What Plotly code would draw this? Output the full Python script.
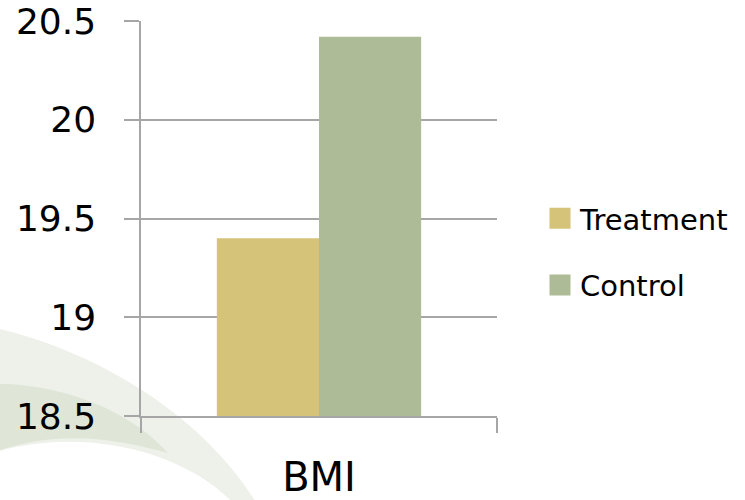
import plotly.graph_objects as go

categories = ["BMI"]
series_names = ["Treatment", "Control"]
treatment = [19.4]
control = [20.42]
colors = ["#D6C37A", "#ADBB97"]
y_ticks = [18.5, 19, 19.5, 20, 20.5]
y_tick_labels = ["18.5", "19", "19.5", "20", "20.5"]

W, H = 745, 500
ML, MR, MT, MB = 141, 247, 21, 84
PW, PH = W - ML - MR, H - MT - MB
FONT = "DejaVu Sans"


def px(x, y):
    return (x - ML) / PW, (H - MB - y) / PH


def path(cmds):
    out = []
    for c in cmds:
        if isinstance(c, str):
            out.append(c)
        else:
            a, b = px(*c)
            out.append(f"{a:.4f},{b:.4f}")
    return " ".join(out)


fig = go.Figure()
for name, vals, col in zip(series_names, [treatment, control], colors):
    fig.add_trace(go.Bar(x=categories, y=vals, name=name, marker_color=col,
                         marker_line_width=0, showlegend=False))
for i, (name, col) in enumerate(zip(series_names, colors)):
    fig.add_trace(go.Scatter(x=categories, y=[None], name=name, mode="markers",
                             legendgroup=f"g{i}",
                             marker=dict(symbol="square", size=16, color=col,
                                         line=dict(width=5, color=col))))

light = path(["M", (-5, 328), "C", (90, 350), (200, 410), (258, 505), "L", (235, 505),
              "C", (190, 455), (90, 425), (-5, 452), "Z"])
dark = path(["M", (-5, 384), "C", (60, 383), (130, 410), (168, 453),
             "C", (120, 440), (60, 428), (-5, 452), "Z"])

fig.update_layout(
    width=W, height=H,
    margin=dict(l=ML, r=MR, t=MT, b=MB, pad=0),
    paper_bgcolor="white",
    plot_bgcolor="rgba(0,0,0,0)",
    barmode="group", bargap=0.426, bargroupgap=0,
    font=dict(family=FONT, color="black"),
    shapes=[
        dict(type="path", xref="paper", yref="paper", path=light,
             fillcolor="#EEF1EA", line_width=0, layer="below"),
        dict(type="path", xref="paper", yref="paper", path=dark,
             fillcolor="#DFE6D8", line_width=0, layer="below"),
    ],
    legend=dict(x=px(540, 0)[0], xanchor="left", y=px(0, 252)[1], yanchor="middle",
                font=dict(size=29, family=FONT), bgcolor="rgba(0,0,0,0)",
                tracegroupgap=26, traceorder="grouped"),
    xaxis=dict(showline=True, linecolor="#A6A6A6", linewidth=1.5,
               ticks="outside", tickson="boundaries", ticklen=15, tickwidth=1.5,
               tickcolor="#A6A6A6", tickfont=dict(size=40), ticklabelstandoff=25,
               showgrid=False, zeroline=False, automargin=False),
    yaxis=dict(range=[18.5, 20.5], tickvals=y_ticks, ticktext=y_tick_labels,
               showline=True, linecolor="#A6A6A6", linewidth=1.5,
               showgrid=True, gridcolor="#A6A6A6", gridwidth=1.5,
               ticks="outside", ticklen=15, tickwidth=1.5, tickcolor="#A6A6A6",
               tickfont=dict(size=36), ticklabelstandoff=21, zeroline=False,
               automargin=False),
)

fig.write_html("out.html")
